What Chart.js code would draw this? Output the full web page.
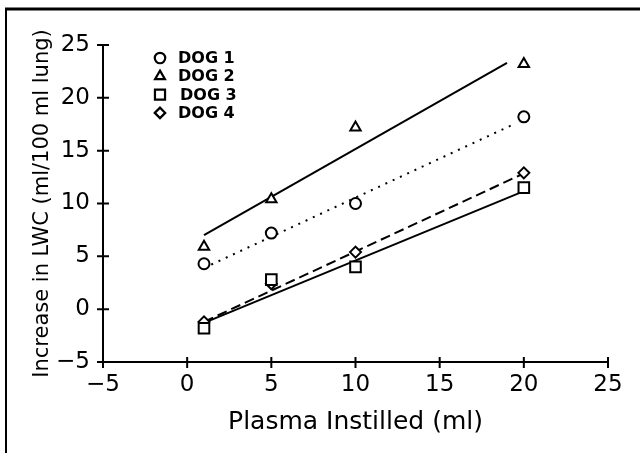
<!DOCTYPE html>
<html>
<head>
<meta charset="utf-8">
<script src="https://cdn.jsdelivr.net/npm/chart.js@4.4.1/dist/chart.umd.min.js"></script>
<style>
	html, body { margin: 0; padding: 0; background: #fff; }
	#wrap { width: 640px; height: 453px; }
</style>
</head>
<body>
<div id="wrap"><canvas id="mycanvas" width="640" height="453"></canvas></div>
<script>
// measured points (ml plasma vs increase in LWC)
var plasma = [1, 5, 10, 20];
var dog1 = [4.3, 7.2, 10.0, 18.2];
var dog2 = [5.9, 10.4, 17.2, 23.2];
var dog3 = [-1.8, 2.8, 4.0, 11.5];
var dog4 = [-1.2, 2.4, 5.4, 12.9];

// regression lines, start and end
var fit1X = [1, 19.4], fit1Y = [3.9, 17.5];
var fit2X = [1, 19.0], fit2Y = [7.0, 23.3];
var fit3X = [1, 19.9], fit3Y = [-1.3, 11.1];
var fit4X = [1, 19.8], fit4Y = [-1.2, 12.7];

var xTicks = [-5, 0, 5, 10, 15, 20, 25];
var yTicks = [-5, 0, 5, 10, 15, 20, 25];
var legendLabels = ["DOG 1", "DOG 2", "DOG 3", "DOG 4"];

function pts(xs, ys) {
	var out = [];
	for (var i in xs) {
		out.push({x: xs[i], y: ys[i]});
	}
	return out;
}

function marker(label, ys, style, r) {
	return {
		label: label,
		data: pts(plasma, ys),
		showLine: false,
		pointStyle: style,
		pointRadius: r,
		pointBorderWidth: 2,
		pointBorderColor: "#000",
		pointBackgroundColor: "#fff"
	};
}

function fitLine(xs, ys, dash) {
	return {
		data: pts(xs, ys),
		showLine: true,
		fill: false,
		borderColor: "#000",
		borderWidth: 2,
		borderDash: dash,
		pointRadius: 0
	};
}

var markerSets = [
	marker(legendLabels[0], dog1, "circle", 5.5),
	marker(legendLabels[1], dog2, "triangle", 6),
	marker(legendLabels[2], dog3, "rect", 7.5),
	marker(legendLabels[3], dog4, "rectRot", 5.5)
];

var chartdata = {
	datasets: markerSets.concat([
		fitLine(fit1X, fit1Y, [2, 6]),
		fitLine(fit2X, fit2Y, []),
		fitLine(fit3X, fit3Y, []),
		fitLine(fit4X, fit4Y, [10, 5])
	])
};

function setTicks(list) {
	return function(scale) {
		scale.ticks = list.map(function(v) { return {value: v}; });
	};
}

function minus(v) {
	return String(v).replace("-", "\u2212");
}

// frame, crossing tick marks and the legend
var extras = {
	id: "extras",
	beforeDraw: function(chart) {
		var ctx = chart.ctx;
		ctx.save();
		ctx.strokeStyle = "#000";
		ctx.lineWidth = 3;
		ctx.beginPath();
		ctx.moveTo(5, 9);
		ctx.lineTo(640, 9);
		ctx.stroke();
		ctx.lineWidth = 2;
		ctx.beginPath();
		ctx.moveTo(6, 8);
		ctx.lineTo(6, 453);
		ctx.stroke();
		ctx.restore();
	},
	afterDraw: function(chart) {
		var ctx = chart.ctx;
		var xs = chart.scales.x, ys = chart.scales.y;
		var area = chart.chartArea;
		ctx.save();
		ctx.strokeStyle = "#000";
		ctx.lineWidth = 2;
		ctx.beginPath();
		xTicks.forEach(function(v) {
			var px = xs.getPixelForValue(v);
			ctx.moveTo(px, area.bottom - 5);
			ctx.lineTo(px, area.bottom + 6);
		});
		yTicks.forEach(function(v) {
			var py = ys.getPixelForValue(v);
			ctx.moveTo(area.left - 6, py);
			ctx.lineTo(area.left + 6, py);
		});
		ctx.stroke();

		// legend
		var lx = area.left + 57, ly = area.top + 13;
		ctx.textBaseline = "middle";
		ctx.textAlign = "left";
		markerSets.forEach(function(ds, i) {
			var y = ly + i * 18.3;
			ctx.fillStyle = "#fff";
			ctx.strokeStyle = "#000";
			ctx.lineWidth = 2.2;
			Chart.helpers.drawPoint(ctx, {
				pointStyle: ds.pointStyle,
				radius: ds.pointRadius * 0.95,
				borderWidth: 2,
				rotation: 0
			}, lx, y);
			ctx.fillStyle = "#000";
			ctx.font = "bold 16px 'DejaVu Sans'";
			ctx.fillText(ds.label, lx + (i == 2 ? 20 : 18), y + 1);
		});
		ctx.restore();
	}
};

var ctx = document.getElementById("mycanvas");

var LineGraph = new Chart(ctx, {
	type: "scatter",
	data: chartdata,
	plugins: [extras],
	options: {
		responsive: false,
		animation: false,
		layout: {padding: {left: 0, top: 45, right: 32, bottom: 0}},
		plugins: {
			legend: {display: false},
			tooltip: {enabled: false}
		},
		scales: {
			x: {
				type: "linear",
				min: -5,
				max: 25,
				afterBuildTicks: setTicks(xTicks),
				afterFit: function(scale) { scale.height = 91; },
				grid: {display: false, drawTicks: false},
				border: {display: true, color: "#000", width: 2},
				ticks: {
					color: "#000",
					padding: 9,
					font: {family: "'DejaVu Sans'", size: 23},
					callback: minus
				},
				title: {
					display: true,
					text: "Plasma Instilled (ml)",
					color: "#000",
					font: {family: "'DejaVu Sans'", size: 25},
					padding: {top: 0, bottom: 16}
				}
			},
			y: {
				type: "linear",
				min: -5,
				max: 25,
				afterBuildTicks: setTicks(yTicks),
				afterFit: function(scale) { scale.width = 103; },
				grid: {display: false, drawTicks: false},
				border: {display: true, color: "#000", width: 2},
				ticks: {
					color: "#000",
					padding: 13,
					font: {family: "'DejaVu Sans'", size: 23},
					callback: minus
				},
				title: {
					display: true,
					text: "Increase in LWC (ml/100 ml lung)",
					color: "#000",
					font: {family: "'DejaVu Sans'", size: 21},
					padding: {top: 30, bottom: 0}
				}
			}
		}
	}
});
</script>
</body>
</html>
